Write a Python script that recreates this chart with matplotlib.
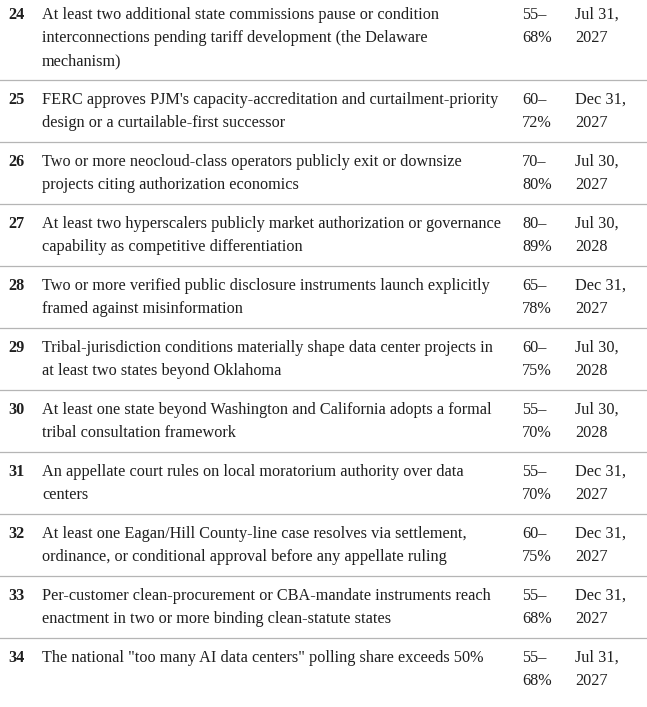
import matplotlib.pyplot as plt

# Table rows: number, description lines, probability range, resolution date
numbers = ["24", "25", "26", "27", "28", "29", "30", "31", "32", "33", "34"]
descriptions = [
    ["At least two additional state commissions pause or condition",
     "interconnections pending tariff development (the Delaware",
     "mechanism)"],
    ["FERC approves PJM's capacity-accreditation and curtailment-priority",
     "design or a curtailable-first successor"],
    ["Two or more neocloud-class operators publicly exit or downsize",
     "projects citing authorization economics"],
    ["At least two hyperscalers publicly market authorization or governance",
     "capability as competitive differentiation"],
    ["Two or more verified public disclosure instruments launch explicitly",
     "framed against misinformation"],
    ["Tribal-jurisdiction conditions materially shape data center projects in",
     "at least two states beyond Oklahoma"],
    ["At least one state beyond Washington and California adopts a formal",
     "tribal consultation framework"],
    ["An appellate court rules on local moratorium authority over data",
     "centers"],
    ["At least one Eagan/Hill County-line case resolves via settlement,",
     "ordinance, or conditional approval before any appellate ruling"],
    ["Per-customer clean-procurement or CBA-mandate instruments reach",
     "enactment in two or more binding clean-statute states"],
    ["The national \"too many AI data centers\" polling share exceeds 50%"],
]
probabilities = [["55–", "68%"], ["60–", "72%"], ["70–", "80%"], ["80–", "89%"],
                 ["65–", "78%"], ["60–", "75%"], ["55–", "70%"], ["55–", "70%"],
                 ["60–", "75%"], ["55–", "68%"], ["55–", "68%"]]
dates = [["Jul 31,", "2027"], ["Dec 31,", "2027"], ["Jul 30,", "2027"], ["Jul 30,", "2028"],
         ["Dec 31,", "2027"], ["Jul 30,", "2028"], ["Jul 30,", "2028"], ["Dec 31,", "2027"],
         ["Dec 31,", "2027"], ["Dec 31,", "2027"], ["Jul 31,", "2027"]]

W, H = 647, 707
fig = plt.figure(figsize=(W / 100, H / 100), dpi=100)
ax = fig.add_axes([0, 0, 1, 1])
ax.set_xlim(0, W)
ax.set_ylim(H, 0)
ax.axis("off")

color = "#1f1f1f"
font = dict(family="Liberation Serif", fontsize=11.7, color=color, va="center")
line_h = 23
y = 15
for i in range(len(numbers)):
    ax.text(8, y, numbers[i], fontweight="bold", **font)
    for k, line in enumerate(descriptions[i]):
        ax.text(42, y + k * line_h, line, **font)
    for k, line in enumerate(probabilities[i]):
        ax.text(522, y + k * line_h, line, **font)
    for k, line in enumerate(dates[i]):
        ax.text(575, y + k * line_h, line, **font)
    n = max(len(descriptions[i]), 2)
    sep = y + (n - 1) * line_h + 19
    if i < len(numbers) - 1:
        ax.axhline(sep, color="#b5b5b5", lw=0.9)
    y = sep + 20

fig.savefig("out.png", dpi=100)
